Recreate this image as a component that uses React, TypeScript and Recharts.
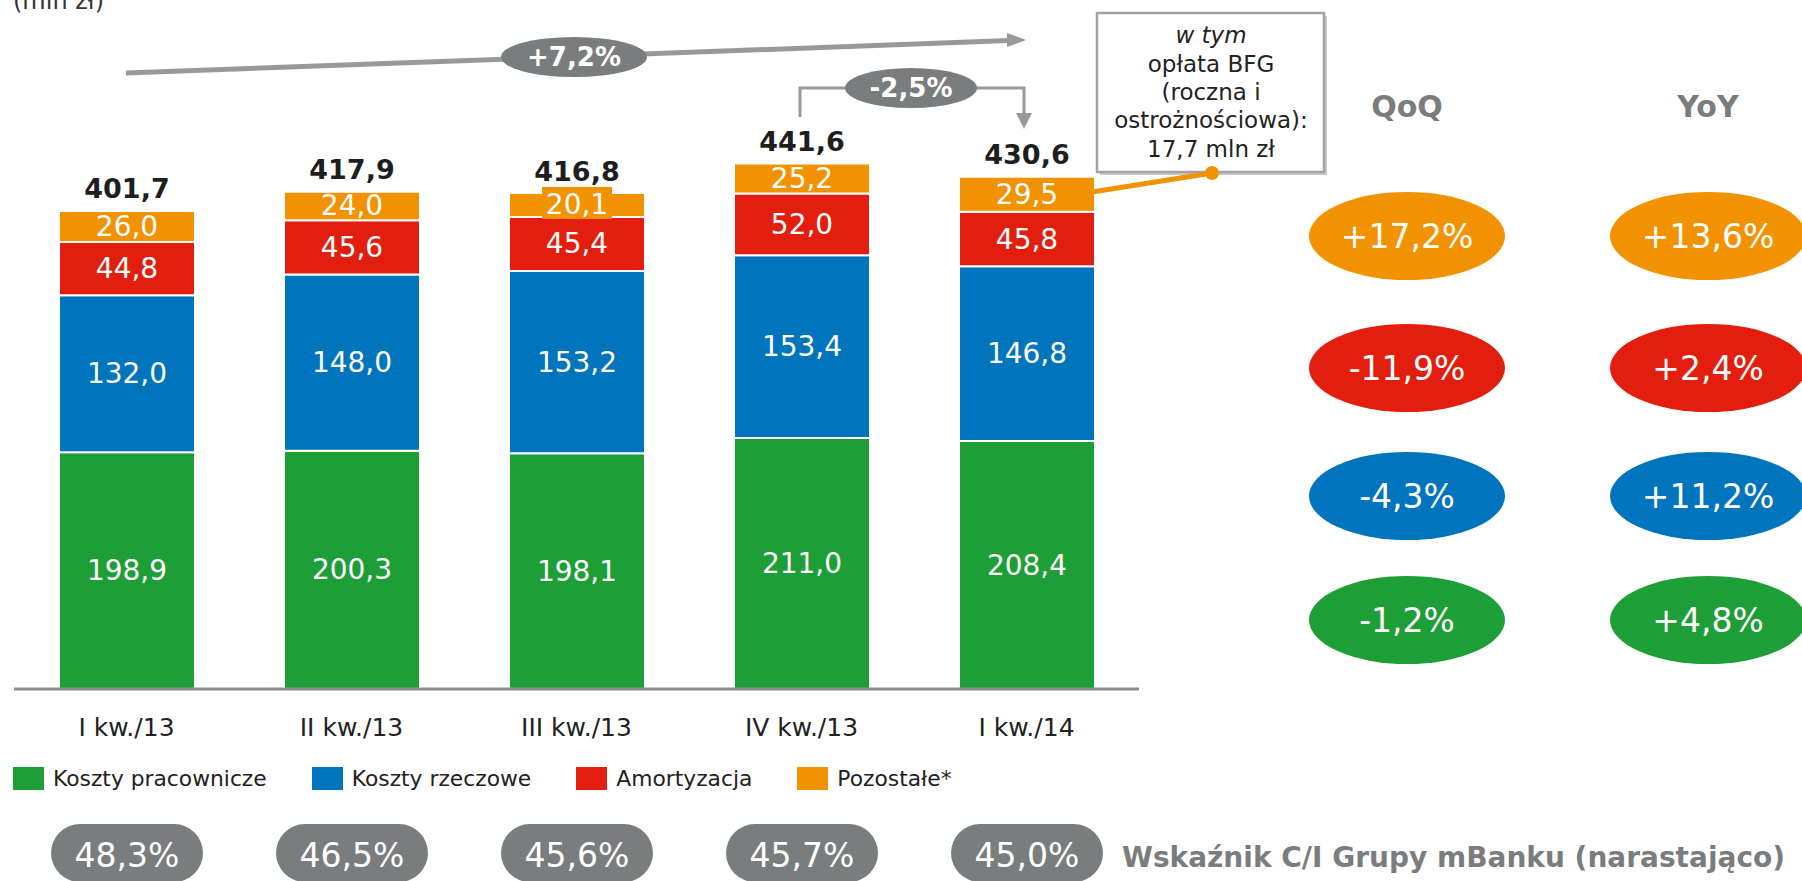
import React from 'react';
import { BarChart, Bar, XAxis, YAxis, LabelList } from 'recharts';

const categories = ['I kw./13', 'II kw./13', 'III kw./13', 'IV kw./13', 'I kw./14'];
const pracownicze = [198.9, 200.3, 198.1, 211.0, 208.4];
const rzeczowe = [132.0, 148.0, 153.2, 153.4, 146.8];
const amortyzacja = [44.8, 45.6, 45.4, 52.0, 45.8];
const pozostale = [26.0, 24.0, 20.1, 25.2, 29.5];
const totals = [401.7, 417.9, 416.8, 441.6, 430.6];
const ciRatio = [48.3, 46.5, 45.6, 45.7, 45.0];

// order: Pozostałe, Amortyzacja, Koszty rzeczowe, Koszty pracownicze
const qoq = ['+17,2%', '-11,9%', '-4,3%', '-1,2%'];
const yoy = ['+13,6%', '+2,4%', '+11,2%', '+4,8%'];

const GREEN = '#1d9e36';
const BLUE = '#0075bd';
const RED = '#e31e0e';
const ORANGE = '#f39200';
const GRAY = '#7a7d7e';
const FONT = '"DejaVu Sans", Verdana, sans-serif';

const series = [
  { key: 'pracownicze', name: 'Koszty pracownicze', color: GREEN },
  { key: 'rzeczowe', name: 'Koszty rzeczowe', color: BLUE },
  { key: 'amortyzacja', name: 'Amortyzacja', color: RED },
  { key: 'pozostale', name: 'Pozostałe*', color: ORANGE },
];
const badgeColors = [ORANGE, RED, BLUE, GREEN];
const badgeRows = [236, 368, 496, 620];

const data = categories.map((cat, i) => ({
  cat,
  pracownicze: pracownicze[i],
  rzeczowe: rzeczowe[i],
  amortyzacja: amortyzacja[i],
  pozostale: pozostale[i],
  total: totals[i],
  ci: ciRatio[i],
}));

const fmt = (v: number) => v.toFixed(1).replace('.', ',');

const box = (p: any) => {
  const vb = p.viewBox && p.viewBox.width !== undefined ? p.viewBox : p;
  return { x: Number(vb.x), y: Number(vb.y), width: Number(vb.width), height: Number(vb.height) };
};

const segLabel = (bg?: string) => (p: any) => {
  const { x, y, width, height } = box(p);
  const cx = x + width / 2;
  const cy = y + height / 2;
  return (
    <g>
      {bg && height < 28 ? <rect x={cx - 35} y={cy - 18} width={70} height={32} fill={bg} /> : null}
      <text x={cx} y={cy} textAnchor="middle" dominantBaseline="central" fill="#fff" fontSize={28} fontFamily={FONT}>
        {fmt(Number(p.value))}
      </text>
    </g>
  );
};

const totalLabel = (p: any) => {
  const { x, y, width } = box(p);
  return (
    <text x={x + width / 2} y={y - 22} textAnchor="middle" dominantBaseline="central" fill="#1e1e1e" fontSize={27} fontWeight="bold" fontFamily={FONT}>
      {fmt(Number(p.value))}
    </text>
  );
};

const ciPill = (p: any) => {
  const { x, width } = box(p);
  const cx = x + width / 2;
  return (
    <g>
      <rect x={cx - 76} y={824} width={152} height={58} rx={29} fill={GRAY} />
      <text x={cx} y={855} textAnchor="middle" dominantBaseline="central" fill="#fff" fontSize={33} fontFamily={FONT}>
        {fmt(Number(p.value)) + '%'}
      </text>
    </g>
  );
};

const CatTick = (p: any) => (
  <text x={p.x} y={p.y + 38} textAnchor="middle" dominantBaseline="central" fill="#222" fontSize={25} fontFamily={FONT}>
    {p.payload.value}
  </text>
);

const Overlay = () => (
  <svg width={1802} height={881} style={{ position: 'absolute', left: 0, top: 0, pointerEvents: 'none' }}>
    <text x={13} y={9} fontSize={24} fill="#333" fontFamily={FONT}>(mln zł)</text>

    {/* trend arrow +7,2% */}
    <line x1={126} y1={73} x2={1009} y2={40.6} stroke="#999" strokeWidth={5} />
    <polygon points="1026,40 1007,33 1007,47" fill="#999" />
    <ellipse cx={574} cy={57} rx={73} ry={20} fill={GRAY} />
    <text x={574} y={57} textAnchor="middle" dominantBaseline="central" fill="#fff" fontSize={26} fontWeight="bold" fontFamily={FONT}>+7,2%</text>

    {/* QoQ bracket -2,5% */}
    <polyline points="800,117 800,88 850,88" fill="none" stroke="#999" strokeWidth={3} />
    <polyline points="972,88 1024,88 1024,114" fill="none" stroke="#999" strokeWidth={3} />
    <polygon points="1016,113 1032,113 1024,129" fill="#999" />
    <ellipse cx={911} cy={88} rx={66} ry={20} fill={GRAY} />
    <text x={911} y={88} textAnchor="middle" dominantBaseline="central" fill="#fff" fontSize={26} fontWeight="bold" fontFamily={FONT}>-2,5%</text>

    {/* callout */}
    <rect x={1100} y={16} width={227} height={159} fill="#c8c8c8" />
    <rect x={1097} y={13} width={227} height={159} fill="#fff" stroke="#a3a3a3" strokeWidth={2.5} />
    <g fontSize={23} fill="#222" fontFamily={FONT} textAnchor="middle">
      <text x={1211} y={43} fontStyle="italic">w tym</text>
      <text x={1211} y={72}>opłata BFG</text>
      <text x={1211} y={100}>(roczna i</text>
      <text x={1211} y={128}>ostrożnościowa):</text>
      <text x={1211} y={157}>17,7 mln zł</text>
    </g>
    <line x1={1092} y1={192} x2={1212} y2={173} stroke={ORANGE} strokeWidth={5} />
    <circle cx={1212} cy={173} r={7} fill={ORANGE} />

    {/* QoQ / YoY badges */}
    <text x={1407} y={106} textAnchor="middle" dominantBaseline="central" fill={GRAY} fontSize={30} fontWeight="bold" fontFamily={FONT}>QoQ</text>
    <text x={1708} y={106} textAnchor="middle" dominantBaseline="central" fill={GRAY} fontSize={30} fontWeight="bold" fontFamily={FONT}>YoY</text>
    {qoq.map((t, i) => (
      <g key={'q' + i}>
        <ellipse cx={1407} cy={badgeRows[i]} rx={98} ry={44} fill={badgeColors[i]} />
        <text x={1407} y={badgeRows[i]} textAnchor="middle" dominantBaseline="central" fill="#fff" fontSize={33} fontFamily={FONT}>{t}</text>
      </g>
    ))}
    {yoy.map((t, i) => (
      <g key={'y' + i}>
        <ellipse cx={1708} cy={badgeRows[i]} rx={98} ry={44} fill={badgeColors[i]} />
        <text x={1708} y={badgeRows[i]} textAnchor="middle" dominantBaseline="central" fill="#fff" fontSize={33} fontFamily={FONT}>{t}</text>
      </g>
    ))}

    <text x={1122} y={857} dominantBaseline="central" fill={GRAY} fontSize={28} fontWeight="bold" fontFamily={FONT}>
      Wskaźnik C/I Grupy mBanku (narastająco)
    </text>
  </svg>
);

const LegendRow = () => (
  <div style={{ position: 'absolute', left: 13, top: 767, display: 'flex', alignItems: 'center', fontFamily: FONT, fontSize: 21.8, color: '#222' }}>
    {series.map(s => (
      <div key={s.key} style={{ display: 'flex', alignItems: 'center', marginRight: 45 }}>
        <div style={{ width: 31, height: 23, background: s.color, marginRight: 9 }} />
        <span style={{ lineHeight: '23px' }}>{s.name}</span>
      </div>
    ))}
  </div>
);

export default function App() {
  return (
    <div style={{ position: 'absolute', left: 0, top: 0, width: 1802, height: 881, background: '#fff', overflow: 'hidden' }}>
      <BarChart width={1802} height={881} data={data} margin={{ top: 94, right: 663, left: 14, bottom: 152 }}>
        <XAxis
          dataKey="cat"
          height={40}
          axisLine={{ stroke: '#8c8c8c', strokeWidth: 3 }}
          tickLine={false}
          tickSize={0}
          tickMargin={0}
          tick={<CatTick />}
          interval={0}
        />
        <YAxis hide type="number" domain={[0, 500]} />
        <Bar dataKey="pracownicze" stackId="a" fill={GREEN} stroke="#fff" strokeWidth={2} barSize={136} isAnimationActive={false}>
          <LabelList dataKey="pracownicze" content={segLabel()} />
          <LabelList dataKey="ci" content={ciPill} />
        </Bar>
        <Bar dataKey="rzeczowe" stackId="a" fill={BLUE} stroke="#fff" strokeWidth={2} barSize={136} isAnimationActive={false}>
          <LabelList dataKey="rzeczowe" content={segLabel()} />
        </Bar>
        <Bar dataKey="amortyzacja" stackId="a" fill={RED} stroke="#fff" strokeWidth={2} barSize={136} isAnimationActive={false}>
          <LabelList dataKey="amortyzacja" content={segLabel()} />
        </Bar>
        <Bar dataKey="pozostale" stackId="a" fill={ORANGE} stroke="#fff" strokeWidth={2} barSize={136} isAnimationActive={false}>
          <LabelList dataKey="pozostale" content={segLabel(ORANGE)} />
          <LabelList dataKey="total" content={totalLabel} />
        </Bar>
      </BarChart>
      <LegendRow />
      <Overlay />
    </div>
  );
}
